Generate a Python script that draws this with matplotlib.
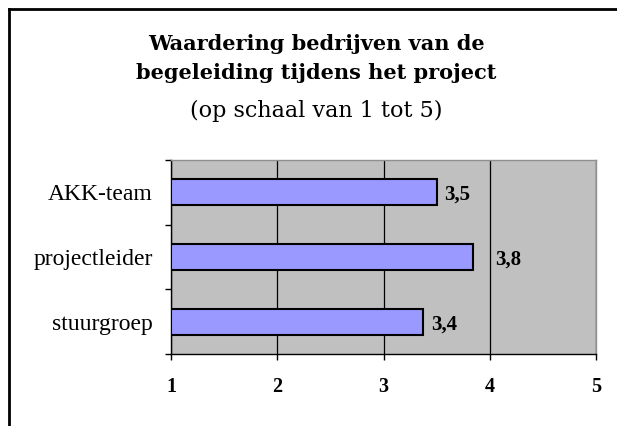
import matplotlib
matplotlib.use("Agg")
import matplotlib.pyplot as plt
from matplotlib.lines import Line2D

categories = ["AKK-team", "projectleider", "stuurgroep"]
values = [3.5, 3.84, 3.37]
value_labels = ["3,5", "3,8", "3,4"]
xticks = [1, 2, 3, 4, 5]
title_lines = ["Waardering bedrijven van de", "begeleiding tijdens het project"]
subtitle = "(op schaal van 1 tot 5)"

SERIF_WIDE = "DejaVu Serif"
SERIF = "Liberation Serif"
W, H = 617, 426
fig = plt.figure(figsize=(W / 100, H / 100), dpi=100)
fig.patch.set_facecolor("white")

# figure border (top and left)
fig.add_artist(Line2D([8.5 / W, 8.5 / W], [0, 1 - 8.5 / H], transform=fig.transFigure,
                      color="black", lw=2, solid_capstyle="projecting"))
fig.add_artist(Line2D([8.5 / W, 1], [1 - 8.5 / H, 1 - 8.5 / H], transform=fig.transFigure,
                      color="black", lw=2, solid_capstyle="projecting"))

left, right, top, bottom = 171, 596, 160, 354
ax = fig.add_axes([left / W, 1 - bottom / H, (right - left) / W, (bottom - top) / H])
ax.set_facecolor("#C0C0C0")

ypos = list(range(len(categories)))
ax.barh(ypos, [v - 1 for v in values], left=1, height=0.4, color="#9999FF",
        edgecolor="black", linewidth=1.5, zorder=3)
ax.set_xlim(1, 5)
ax.set_ylim(len(categories) - 0.5, -0.5)
ax.set_xticks(xticks)
ax.set_xticklabels([str(t) for t in xticks], fontfamily=SERIF, fontweight="bold", fontsize=14.5)
ax.set_yticks(ypos)
ax.set_yticklabels(categories, fontfamily=SERIF, fontsize=17)
ax.set_yticks([-0.5, 0.5, 1.5, 2.5], minor=True)
ax.tick_params(axis="y", which="major", length=0, pad=13)
ax.tick_params(axis="y", which="minor", length=4.5, direction="out", width=1)
ax.tick_params(axis="x", length=4.5, width=1, pad=12)
ax.grid(axis="x", color="black", lw=0.9, zorder=1)
for s in ["top", "right"]:
    ax.spines[s].set_color("#909090")
    ax.spines[s].set_linewidth(1)
for s in ["left", "bottom"]:
    ax.spines[s].set_color("black")
    ax.spines[s].set_linewidth(1)

label_offsets = [0.075, 0.21, 0.075]
for y, v, lab, off in zip(ypos, values, value_labels, label_offsets):
    ax.text(v + off, y + 0.04, lab, va="center", ha="left", fontfamily=SERIF,
            fontweight="bold", fontsize=15, zorder=4)

fig.text(316 / W, 1 - 50 / H, title_lines[0], ha="center", va="baseline",
         fontfamily=SERIF_WIDE, fontweight="bold", fontsize=15)
fig.text(316 / W, 1 - 79 / H, title_lines[1], ha="center", va="baseline",
         fontfamily=SERIF_WIDE, fontweight="bold", fontsize=15)
fig.text(316 / W, 1 - 117 / H, subtitle, ha="center", va="baseline",
         fontfamily=SERIF_WIDE, fontsize=16)

fig.savefig("out.png", dpi=100)
